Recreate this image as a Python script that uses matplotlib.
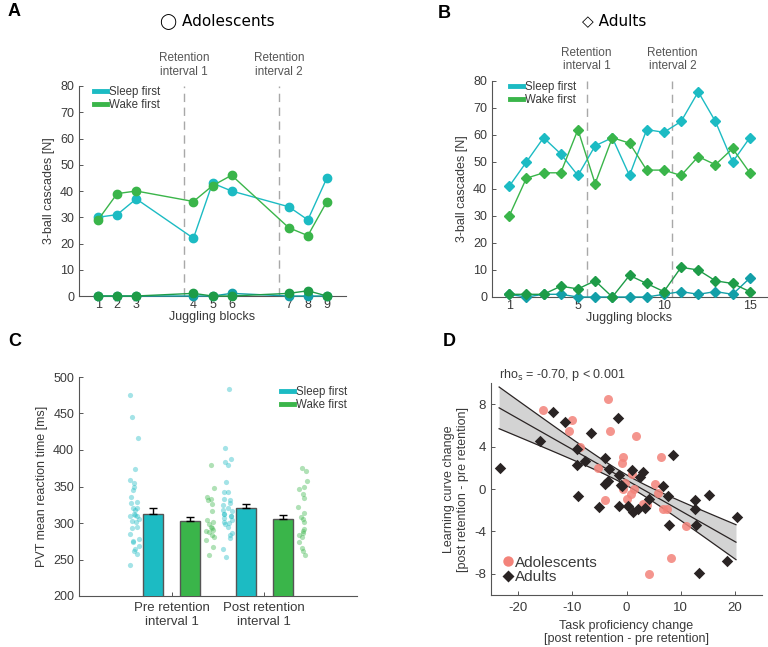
import numpy as np
import matplotlib
matplotlib.use("Agg")
import matplotlib.pyplot as plt
from matplotlib.lines import Line2D
from matplotlib.transforms import blended_transform_factory

plt.rcParams['font.family'] = ['Liberation Sans', 'DejaVu Sans']
plt.rcParams['axes.unicode_minus'] = False

# ---------------- data ----------------
# Panel A (adolescents) - 9 juggling blocks
a_blocks = [1, 2, 3, 4, 5, 6, 7, 8, 9]
a_pos = [1, 2, 3, 6, 7, 8, 11, 12, 13]
a_sleep = [30, 31, 37, 22, 43, 40, 34, 29, 45]
a_wake = [29, 39, 40, 36, 42, 46, 26, 23, 36]
a_sleep_low = [0, 0, 0, 0, 0, 1, 0, 0, 0]
a_wake_low = [0, 0, 0, 1, 0, 0, 1, 2, 0]
a_retention = [5.5, 10.5]

# Panel B (adults) - 15 juggling blocks
b_blocks = list(range(1, 16))
b_sleep = [41, 50, 59, 53, 45, 56, 59, 45, 62, 61, 65, 76, 65, 50, 59]
b_wake = [30, 44, 46, 46, 62, 42, 59, 57, 47, 47, 45, 52, 49, 55, 46]
b_sleep_low = [1, 0, 1, 1, 0, 0, 0, 0, 0, 1, 2, 1, 2, 1, 7]
b_wake_low = [1, 1, 1, 4, 3, 6, 0, 8, 5, 2, 11, 10, 6, 5, 2]
b_retention = [5.5, 10.5]

# Panel C (PVT)
c_groups = ["Pre retention\ninterval 1", "Post retention\ninterval 1"]
c_sleep_mean = [313, 320]
c_wake_mean = [303, 305]
c_sleep_err = [7, 6]
c_wake_err = [5, 6]
c_sleep_pre = [476, 445, 417, 374, 359, 355, 349, 336, 329, 328, 321, 318, 313, 311,
               309, 306, 303, 301, 294, 293, 285, 278, 276, 274, 268, 264, 261, 258, 243,
               320, 345, 310]
c_wake_pre = [380, 348, 336, 333, 332, 326, 316, 304, 301, 295, 293, 290, 287, 284,
              281, 277, 267, 256, 298, 289]
c_sleep_post = [484, 403, 387, 384, 380, 356, 343, 342, 333, 332, 328, 320, 316, 313,
                309, 307, 304, 300, 295, 286, 284, 280, 264, 253, 325, 312, 302, 310, 318, 298]
c_wake_post = [375, 371, 358, 349, 347, 340, 334, 322, 314, 308, 306, 302, 292, 289,
               286, 283, 281, 274, 266, 262, 256]

# Panel D (correlation)
d_ado_x = [-15.4, -3.4, -10.0, -10.7, -3.1, 1.7, -8.6, -0.7, -0.8, 6.4, -5.2, 5.3,
           1.4, -0.7, 0.9, 0.1, -4.0, 5.9, 3.0, 3.8, 6.7, 7.4, 10.9, 8.2, 4.1, -0.2, 1.0]
d_ado_y = [7.5, 8.5, 6.5, 5.5, 5.5, 5.0, 4.0, 3.0, 2.5, 3.0, 2.0, 0.5,
           0.0, 0.0, -0.5, -0.9, -1.0, -0.4, -1.4, -1.5, -1.9, -1.9, -3.5, -6.5, -8.0, 0.6, 1.4]
d_adu_x = [-23.4, -16.0, -13.5, -11.4, -6.5, -1.5, -9.1, -9.2, -7.6, -9.0, -3.9, -3.3,
           -4.0, -3.4, -5.1, -1.35, -1.0, -1.4, 0.2, 1.0, 1.2, 2.2, 2.5, 3.0, 3.5,
           4.1, 6.7, 7.7, 8.5, 7.85, 12.7, 12.7, 12.8, 15.3, 18.5, 20.3, 13.4, -0.9]
d_adu_y = [2.0, 4.5, 7.3, 6.3, 5.3, 6.7, 3.8, 2.3, 2.6, -0.7, 2.9, 1.9,
           0.5, 0.8, -1.7, 1.3, 0.4, -1.6, -1.6, 1.75, -2.15, -1.85, 1.1, 1.6, -1.75,
           -0.95, 0.25, -0.65, 3.2, -3.35, -1.0, -1.9, -3.4, -0.6, -6.8, -2.6, -7.9, 0.3]
d_fit_slope = -0.29
d_fit_intercept = 0.84
d_fit_xrange = [-23.5, 20.2]
d_ci_min_half = 0.5
d_ci_spread = 0.0795
d_ci_center = 0.43

# ---------------- style ----------------
CYAN = '#1CBBC3'
GREEN = '#3AB54A'
CYAN_D = '#139FA8'
GREEN_D = '#1E9C48'
PINK = '#F3837A'
BLACK = '#2A2424'
AXC = '#555555'
TXT = '#3A3A3A'
FS = 9

fig = plt.figure(figsize=(7.68, 6.47), dpi=100)
W, H = 768, 647

def add_ax(l, r, b, t):
    return fig.add_axes([l / W, 1 - b / H, (r - l) / W, (b - t) / H])

def style(ax):
    for s in ['top', 'right']:
        ax.spines[s].set_visible(False)
    for s in ['left', 'bottom']:
        ax.spines[s].set_color(AXC)
        ax.spines[s].set_linewidth(0.8)
    ax.tick_params(direction='in', length=3, width=0.7, color=AXC,
                   labelcolor=TXT, labelsize=FS)

hA = [Line2D([], [], color=CYAN, lw=3.5), Line2D([], [], color=GREEN, lw=3.5)]
leg_kw = dict(frameon=False, fontsize=8.3, handlelength=1.1, handletextpad=0.15,
              labelspacing=0.05, borderaxespad=0, labelcolor=TXT)

# ---------------- Panel A ----------------
axA = add_ax(79, 346, 296, 86)
style(axA)
for xr in a_retention:
    axA.axvline(xr, color='#A8A8A8', lw=1, ls=(0, (6, 4)), zorder=1)
axA.plot(a_pos, a_sleep, '-o', color=CYAN, lw=1, ms=6, zorder=3)
axA.plot(a_pos, a_wake, '-o', color=GREEN, lw=1, ms=6, zorder=3)
axA.plot(a_pos, a_sleep_low, '-o', color=CYAN_D, lw=1, ms=6, zorder=3, clip_on=False)
axA.plot(a_pos, a_wake_low, '-o', color=GREEN_D, lw=1, ms=6, zorder=4, clip_on=False)
axA.set_xlim(0, 14)
axA.set_ylim(0, 80)
axA.set_yticks(range(0, 81, 10))
axA.set_xticks(a_pos)
axA.set_xticklabels([str(b) for b in a_blocks])
axA.tick_params(axis='x', length=0, pad=2)
axA.set_xlabel('Juggling blocks', fontsize=FS, color=TXT, labelpad=0)
axA.set_ylabel('3-ball cascades [N]', fontsize=FS, color=TXT, labelpad=4)
trA = blended_transform_factory(axA.transData, axA.transAxes)
for i, xr in enumerate(a_retention):
    axA.text(xr, 1.04, 'Retention\ninterval %d' % (i + 1), transform=trA,
             ha='center', va='bottom', fontsize=8.5, color='#555555', linespacing=1.2)
axA.legend(hA, ['Sleep first', 'Wake first'], loc='upper left',
           bbox_to_anchor=(0.04, 1.02), **leg_kw)

# ---------------- Panel B ----------------
axB = add_ax(492, 767, 297, 81)
style(axB)
for xr in b_retention:
    axB.axvline(xr, color='#A8A8A8', lw=1, ls=(0, (6, 4)), zorder=1)
axB.plot(b_blocks, b_sleep, '-D', color=CYAN, lw=1, ms=5.5, zorder=3)
axB.plot(b_blocks, b_wake, '-D', color=GREEN, lw=1, ms=5.5, zorder=3)
axB.plot(b_blocks, b_sleep_low, '-D', color=CYAN_D, lw=1, ms=5.5, zorder=3, clip_on=False)
axB.plot(b_blocks, b_wake_low, '-D', color=GREEN_D, lw=1, ms=5.5, zorder=4, clip_on=False)
axB.set_xlim(0, 16)
axB.set_ylim(0, 80)
axB.set_yticks(range(0, 81, 10))
axB.set_xticks([1, 5, 10, 15])
axB.tick_params(axis='x', length=0, pad=2)
axB.set_xlabel('Juggling blocks', fontsize=FS, color=TXT, labelpad=0)
axB.set_ylabel('3-ball cascades [N]', fontsize=FS, color=TXT, labelpad=4)
trB = blended_transform_factory(axB.transData, axB.transAxes)
for i, xr in enumerate(b_retention):
    axB.text(xr, 1.04, 'Retention\ninterval %d' % (i + 1), transform=trB,
             ha='center', va='bottom', fontsize=8.5, color='#555555', linespacing=1.2)
axB.legend(hA, ['Sleep first', 'Wake first'], loc='upper left',
           bbox_to_anchor=(0.05, 1.02), **leg_kw)

# ---------------- Panel C ----------------
axC = add_ax(79, 357, 596, 377)
style(axC)
gx = np.array([1, 2])
bw = 0.21
axC.bar(gx - 0.2, c_sleep_mean, bw, color=CYAN, edgecolor='#555555', lw=1, zorder=3)
axC.bar(gx + 0.2, c_wake_mean, bw, color=GREEN, edgecolor='#555555', lw=1, zorder=3)
axC.errorbar(gx - 0.2, c_sleep_mean, yerr=[[0, 0], c_sleep_err], fmt='none',
             ecolor='black', elinewidth=1, capsize=3, zorder=4)
axC.errorbar(gx + 0.2, c_wake_mean, yerr=[[0, 0], c_wake_err], fmt='none',
             ecolor='black', elinewidth=1, capsize=3, zorder=4)
rng = np.random.default_rng(3)
for vals, cx, col in [(c_sleep_pre, 0.6, CYAN), (c_wake_pre, 1.41, GREEN),
                      (c_sleep_post, 1.6, CYAN), (c_wake_post, 2.41, GREEN)]:
    jit = rng.uniform(-0.055, 0.055, len(vals))
    axC.scatter(cx + jit, vals, s=14, color=col, alpha=0.4, lw=0, zorder=2)
axC.set_xlim(0, 3)
axC.set_ylim(200, 500)
axC.set_yticks(range(200, 501, 50))
axC.set_xticks(gx)
axC.set_xticklabels(c_groups, fontsize=FS + 0.5, linespacing=1.25)
axC.tick_params(axis='x', pad=4)
axC.set_ylabel('PVT mean reaction time [ms]', fontsize=FS, color=TXT, labelpad=4)
axC.legend(hA, ['Sleep first', 'Wake first'], loc='upper right',
           bbox_to_anchor=(0.98, 0.98), **leg_kw)

# ---------------- Panel D ----------------
axD = add_ax(491, 762, 595, 383)
style(axD)
xf = np.linspace(d_fit_xrange[0], d_fit_xrange[1], 100)
yf = d_fit_intercept + d_fit_slope * xf
hw = np.sqrt(d_ci_min_half ** 2 + (d_ci_spread * (xf - d_ci_center)) ** 2)
axD.fill_between(xf, yf - hw, yf + hw, color='#D3D3D3', lw=0, zorder=1)
axD.plot(xf, yf, color=BLACK, lw=0.9, zorder=2)
axD.plot(xf, yf - hw, color=BLACK, lw=0.9, zorder=2)
axD.plot(xf, yf + hw, color=BLACK, lw=0.9, zorder=2)
axD.scatter(d_ado_x, d_ado_y, s=42, marker='o', color=PINK, alpha=0.85, lw=0, zorder=3)
axD.scatter(d_adu_x, d_adu_y, s=34, marker='D', color=BLACK, lw=0, zorder=4)
axD.set_xlim(-25, 25)
axD.set_ylim(-10, 10)
axD.set_xticks([-20, -10, 0, 10, 20])
axD.set_yticks([-8, -4, 0, 4, 8])
axD.tick_params(labelsize=FS + 0.5)
axD.tick_params(axis='x', pad=5)
axD.set_xlabel('Task proficiency change\n[post retention - pre retention]',
               fontsize=FS, color=TXT, labelpad=4, linespacing=1.15)
axD.set_ylabel('Learning curve change\n[post retention - pre retention]',
               fontsize=FS, color=TXT, labelpad=4, linespacing=1.15)
axD.text(0.03, 1.0, r'rho$_{\mathrm{s}}$ = -0.70, p < 0.001', transform=axD.transAxes,
         ha='left', va='bottom', fontsize=FS, color=TXT)
hD = [Line2D([], [], ls='none', marker='o', ms=7.5, color=PINK, mec='none'),
      Line2D([], [], ls='none', marker='D', ms=6, color=BLACK, mec='none')]
axD.legend(hD, ['Adolescents', 'Adults'], loc='lower left', bbox_to_anchor=(0.0, 0.0),
           frameon=False, fontsize=11, handlelength=0.8, handletextpad=0.1,
           labelspacing=0.05, borderaxespad=0.3, labelcolor=TXT)

# ---------------- titles & panel labels ----------------
fig.text(217 / W, 1 - 21 / H, '\u25EF Adolescents', ha='center', va='center',
         fontsize=11, color='black', family=['DejaVu Sans'])
fig.text(614 / W, 1 - 21 / H, '\u25C7 Adults', ha='center', va='center',
         fontsize=11, color='black', family=['DejaVu Sans'])
for lab, x, y in [('A', 8, 11), ('B', 438, 13), ('C', 8, 342), ('D', 443, 342)]:
    fig.text(x / W, 1 - y / H, lab, ha='left', va='center', fontsize=13,
             fontweight='bold', color='black')

fig.savefig('out.png', dpi=100)
